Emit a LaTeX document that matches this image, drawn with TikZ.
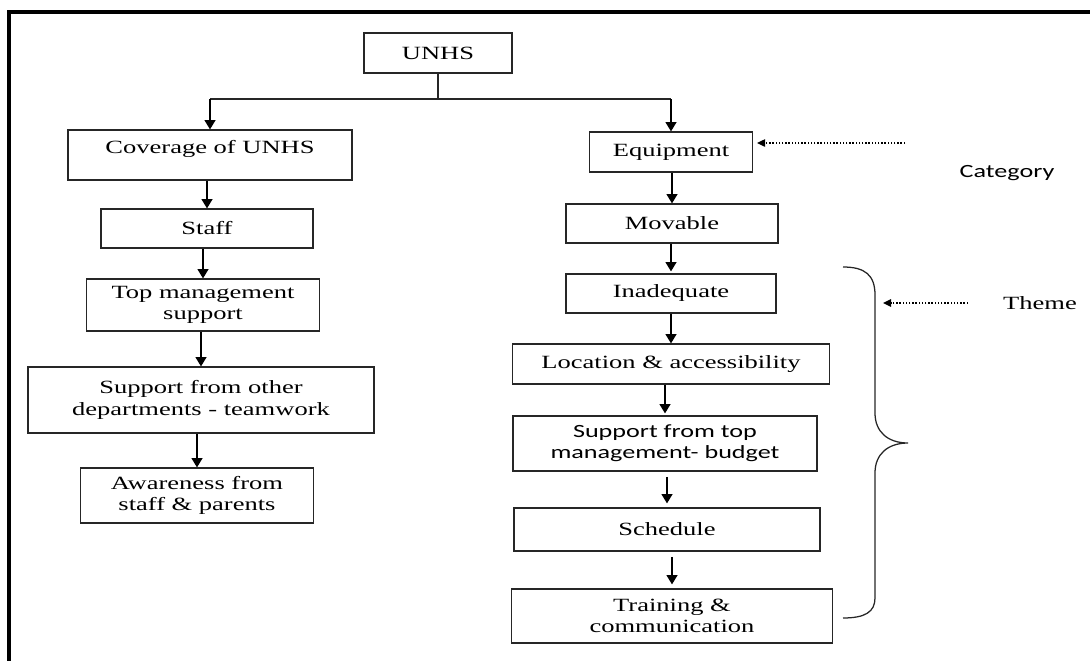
\documentclass[tikz,border=0pt]{standalone}
\usepackage{fontspec}
\setmainfont{Liberation Serif}[FakeStretch=1.42]
\newfontfamily\calibri{Carlito}[FakeStretch=1.4]
\usetikzlibrary{arrows.meta}
\newdimen\pxu
\pxu=0.75pt

\begin{document}
\begin{tikzpicture}[
  x=0.75pt, y=-0.75pt,
  font=\fontsize{14}{16}\selectfont,
  >={Triangle[width=8pt,length=7pt]},
  line join=miter,
  box/.style={draw=black!85, line width=0.8pt, inner sep=2pt, align=center},
  cbox/.style={box, font=\calibri\fontsize{14}{16}\selectfont},
  tree/.style={line width=0.95pt, draw=black!85},
  arr/.style={->, line width=1.5pt},
  garr/.style={arr, shorten <=4pt, shorten >=3pt},
  dotarr/.style={-{Triangle[width=5.5pt,length=6pt]}, line width=1.1pt, dash pattern=on 1.1pt off 1.3pt},
  frame/.style={line width=2.6pt},
]
\useasboundingbox (0,0) rectangle (1090,661);

% outer frame, open at right and bottom
\draw[frame] (9,668) -- (9,12) -- (1096,12);

% root
\node[box, minimum width=148\pxu, minimum height=40\pxu] (unhs) at (438,53) {UNHS};
\coordinate (split) at (438,99);

% left column
\node[box, minimum width=284\pxu, minimum height=50\pxu, text depth=12pt] (cov) at (210,155) {Coverage of UNHS};
\node[box, minimum width=212\pxu, minimum height=39\pxu] (staff) at (207,228.5) {Staff};
\node[box, minimum width=233\pxu, minimum height=52\pxu] (topm) at (203,305) {Top management\\support};
\node[box, minimum width=346\pxu, minimum height=66\pxu] (dept) at (201,400) {Support from other\\departments - teamwork};
\node[box, minimum width=233\pxu, minimum height=55\pxu] (aware) at (197,495.5) {Awareness from\\staff \& parents};

% right column
\node[box, minimum width=163\pxu, minimum height=40\pxu] (equip) at (671,152) {Equipment};
\node[box, minimum width=212\pxu, minimum height=39\pxu] (mov) at (672,223.5) {Movable};
\node[box, minimum width=210\pxu, minimum height=39\pxu] (inad) at (671,293.5) {Inadequate};
\node[box, minimum width=317\pxu, minimum height=40\pxu] (loc) at (671,364) {Location \& accessibility};
\node[cbox, minimum width=304\pxu, minimum height=55\pxu] (budget) at (665,443.5) {Support from top\\management- budget};
\node[box, minimum width=306\pxu, minimum height=43\pxu] (sched) at (667,529.5) {Schedule};
\node[box, minimum width=321\pxu, minimum height=54\pxu] (train) at (672,616) {Training \&\\communication};

% labels
\node[font=\calibri\fontsize{14}{16}\selectfont] (cat) at (1007,173) {Category};
\node (theme) at (1040,303) {Theme};

% tree from the root
\draw[tree] (unhs.south) -- (split);
\draw[tree] (cov.north |- split) -- (equip.north |- split);
\draw[arr] (cov.north |- split) -- (cov.north);
\draw[arr] (equip.north |- split) -- (equip.north);

% left chain
\draw[arr] (staff.north |- cov.south) -- (staff.north);
\draw[arr] (topm.north |- staff.south) -- (topm.north);
\draw[arr] (dept.north |- topm.south) -- (dept.north);
\draw[arr] (aware.north |- dept.south) -- (aware.north);

% right chain
\draw[arr] (mov.north |- equip.south) -- (mov.north);
\draw[arr, shorten >=1.5pt] (inad.north |- mov.south) -- (inad.north);
\draw[arr] (loc.north |- inad.south) -- (loc.north);
\draw[arr, shorten >=1.5pt] (budget.north |- loc.south) -- (budget.north);
\draw[garr] (sched.north |- budget.south) -- (sched.north);
\draw[garr] (train.north |- sched.south) -- (train.north);

% category pointer
\coordinate (cattail) at (905,143);
\draw[dotarr] (cattail) -- ([xshift=3pt]equip.east |- cattail);

% theme brace and pointer
\draw[tree] (843,267) .. controls (865,267) and (875,275) .. (875,295)
  -- (875,413) .. controls (875,432) and (888,443) .. (908,443)
  .. controls (888,443) and (875,454) .. (875,473)
  -- (875,598) .. controls (875,612) and (865,618) .. (843,618);
\coordinate (thtail) at (968,303);
\coordinate (thhead) at (883,303);
\draw[dotarr] (thtail) -- (thhead);
\end{tikzpicture}
\end{document}
